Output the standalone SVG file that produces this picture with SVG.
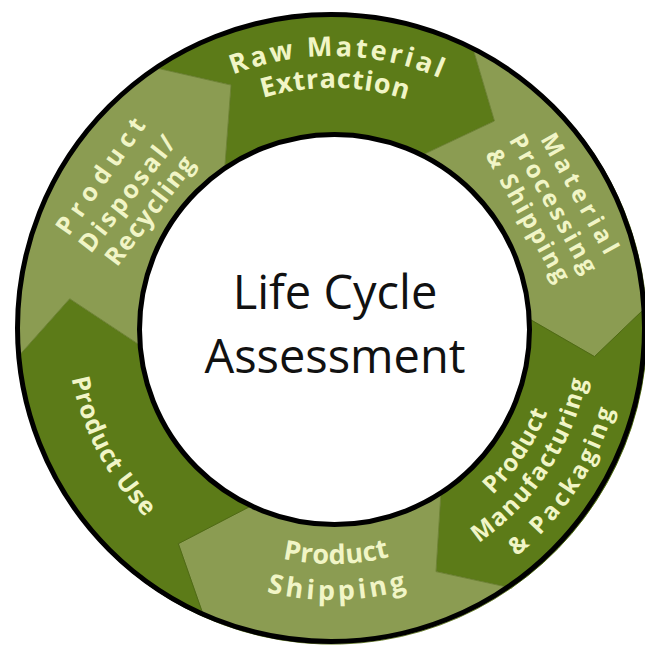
<svg xmlns="http://www.w3.org/2000/svg" xmlns:xlink="http://www.w3.org/1999/xlink" width="645" height="654" viewBox="0 0 645 654">
  <style>
    .dark { fill: #5c7b18; stroke: #4f6a14; stroke-width: 1; }
    .light { fill: #8b9c52; stroke: #6f8436; stroke-width: 1; }
    .lbl { font-family: "Open Sans", "Liberation Sans", sans-serif; font-size: 27px; font-weight: 700; fill: #f1f5c6; }
    .sm { font-size: 24px; }
    .md { font-size: 25px; }
    .mid { text-anchor: middle; }
    .title { font-family: "Open Sans", "Liberation Sans", sans-serif; font-size: 47px; fill: #111; text-anchor: middle; }
  </style>
  <defs>
    <!-- baselines for the curved step labels (ring centre 332,329) -->
    <path id="arc-raw1" d="M59.04,324.24 A273,273 0 0 1 604.96,333.76"/>
    <path id="arc-raw2" d="M90.02,326.03 A242,242 0 0 1 573.98,331.97"/>
    <path id="arc-man1" d="M201.7,525.7 A236,236 0 0 0 462.3,132.3"/>
    <path id="arc-man2" d="M186.3,549.1 A264,264 0 0 0 477.7,108.9"/>
    <path id="arc-man3" d="M170.3,573.4 A293,293 0 0 0 493.7,84.6"/>
    <path id="arc-ship1" d="M97.03,333.10 A235,235 0 0 0 566.97,324.90"/>
    <path id="arc-ship2" d="M61.04,333.73 A271,271 0 0 0 602.96,324.27"/>
    <path id="arc-use" d="M207.6,95.0 A265,265 0 0 0 456.4,563.0"/>
  </defs>

  <rect width="645" height="654" fill="#ffffff"/>

  <!-- ring steps, clockwise; each arrow tip points into the next step -->
  <g id="raw-material-extraction">
    <path class="dark" d="M155.9,67.9 A314,314 0 0 1 472.6,47.1 L494.5,121.0 L417.7,157.2 A192,192 0 0 0 224.6,169.8 L231.0,85.1 Z"/>
    <text class="lbl"><textPath href="#arc-raw1" startOffset="50%" text-anchor="middle" textLength="212" lengthAdjust="spacing">Raw Material</textPath></text>
    <text class="lbl"><textPath href="#arc-raw2" startOffset="50%" text-anchor="middle" textLength="146" lengthAdjust="spacing">Extraction</textPath></text>
  </g>

  <g id="material-processing-shipping">
    <path class="light" d="M472.6,47.1 A314,314 0 0 1 646.2,307.0 L594.5,356.6 L523.5,315.6 A192,192 0 0 0 417.7,157.2 L494.5,121.0 Z"/>
    <g transform="translate(548.8,206) rotate(61)">
      <text class="lbl sm mid" x="4" y="-25" textLength="134" lengthAdjust="spacing">Material</text>
      <text class="lbl sm mid" x="0" y="3" textLength="155" lengthAdjust="spacing">Processing</text>
      <text class="lbl sm mid" x="-2" y="31" textLength="148" lengthAdjust="spacing">&amp; Shipping</text>
    </g>
  </g>

  <g id="product-manufacturing-packaging">
    <path class="dark" d="M646.2,307.0 A314,314 0 0 1 511.3,588.0 L436.0,571.6 L441.3,486.8 A192,192 0 0 0 523.5,315.6 L594.5,356.6 Z"/>
    <text class="lbl sm"><textPath href="#arc-man1" startOffset="50%" text-anchor="middle" textLength="100" lengthAdjust="spacing">Product</textPath></text>
    <text class="lbl sm"><textPath href="#arc-man2" startOffset="50%" text-anchor="middle" textLength="200" lengthAdjust="spacing">Manufacturing</textPath></text>
    <text class="lbl sm"><textPath href="#arc-man3" startOffset="50%" text-anchor="middle" textLength="178" lengthAdjust="spacing">&amp; Packaging</textPath></text>
  </g>

  <g id="product-shipping">
    <path class="light" d="M511.3,588.0 A314,314 0 0 1 203.9,616.8 L178.3,543.7 L253.9,504.4 A192,192 0 0 0 441.3,486.8 L436.0,571.6 Z"/>
    <text class="lbl"><textPath href="#arc-ship1" startOffset="50%" text-anchor="middle" textLength="108" lengthAdjust="spacing">Product</textPath></text>
    <text class="lbl"><textPath href="#arc-ship2" startOffset="50%" text-anchor="middle" textLength="142" lengthAdjust="spacing">Shipping</textPath></text>
  </g>

  <g id="product-use">
    <path class="dark" d="M203.9,616.8 A314,314 0 0 1 18.2,356.5 L69.7,298.7 L140.7,345.7 A192,192 0 0 0 253.9,504.4 L178.3,543.7 Z"/>
    <text class="lbl md"><textPath href="#arc-use" startOffset="50%" text-anchor="middle" textLength="160" lengthAdjust="spacing">Product Use</textPath></text>
  </g>

  <g id="product-disposal-recycling">
    <path class="light" d="M18.2,356.5 A314,314 0 0 1 155.9,67.9 L231.0,85.1 L224.6,169.8 A192,192 0 0 0 140.7,345.7 L69.7,298.7 Z"/>
    <text class="lbl md mid" transform="translate(107.6,181) rotate(-55)" textLength="136" lengthAdjust="spacing">Product</text>
    <text class="lbl md mid" transform="translate(133.8,199) rotate(-52)" textLength="140" lengthAdjust="spacing">Disposal/</text>
    <text class="lbl md mid" transform="translate(156.4,215.8) rotate(-52.7)" textLength="130" lengthAdjust="spacing">Recycling</text>
  </g>

  <!-- ring outline and central hub -->
  <g id="life-cycle-assessment">
    <circle cx="331" cy="328" r="313.5" fill="none" stroke="#000" stroke-width="5"/>
    <circle cx="334.5" cy="329.5" r="195" fill="#ffffff" stroke="#000" stroke-width="5"/>
    <text class="title" x="335" y="309">Life Cycle</text>
    <text class="title" x="335" y="373">Assessment</text>
  </g>
</svg>
